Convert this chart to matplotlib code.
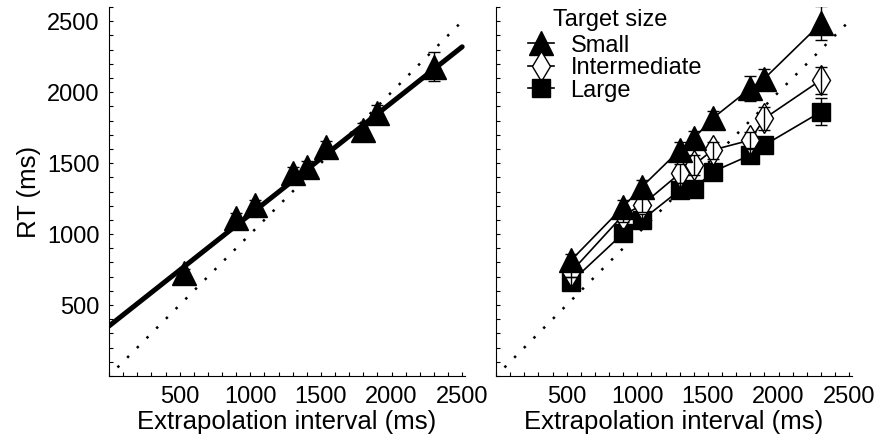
import numpy as np
import matplotlib.pyplot as plt
from matplotlib.ticker import MultipleLocator

plt.rcParams['font.family'] = ['Liberation Sans', 'DejaVu Sans']

    #Extrapolation intervals (ms)
intervals = [533, 900, 1033, 1300, 1400, 1533, 1800, 1900, 2300]

    #Left panel, all target sizes pooled
rt_all = [725, 1110, 1204, 1430, 1474, 1615, 1735, 1855, 2180]
err_all = [30, 35, 35, 40, 40, 40, 45, 55, 100]
fit_intercept = 352
fit_slope = 0.787

    #Right panel, per target size
rt_small = [817, 1192, 1333, 1592, 1674, 1815, 2026, 2096, 2484]
err_small = [40, 45, 45, 60, 55, 50, 85, 65, 120]
rt_inter = [735, 1134, 1204, 1427, 1486, 1592, 1662, 1815, 2085]
err_inter = [40, 50, 50, 65, 70, 60, 60, 80, 95]
rt_large = [664, 1005, 1099, 1310, 1317, 1439, 1556, 1627, 1861]
err_large = [35, 35, 45, 50, 45, 50, 50, 55, 95]

sizes = ["Small", "Intermediate", "Large"]

fig = plt.figure(figsize=(8.8, 4.42), dpi=100)
axL = fig.add_axes([109/880, 1 - 376/442, 356/880, 369/442])
axR = fig.add_axes([496/880, 1 - 376/442, 356/880, 369/442])

diag = np.array([60, 2500])

#--------------LEFT PANEL------------------------------------#
axL.plot(diag, diag, linestyle=(0, (1, 4.5)), color='black', lw=1.8)
fit_x = np.array([0, 2500])
axL.plot(fit_x, fit_intercept + fit_slope * fit_x, color='black', lw=3.6,
         solid_capstyle='round')
axL.errorbar(intervals, rt_all, yerr=err_all, fmt='^', color='black',
             ms=17, capsize=4, elinewidth=1, capthick=1)

#--------------RIGHT PANEL-----------------------------------#
axR.plot(diag, diag, linestyle=(0, (1, 4.5)), color='black', lw=1.8)

handles = []
for rt, err, mk, face, ms, lab in [(rt_large, err_large, 's', 'black', 13, sizes[2]),
                                   (rt_inter, err_inter, 'd', 'white', 15, sizes[1]),
                                   (rt_small, err_small, '^', 'black', 17, sizes[0])]:
    ln, = axR.plot(intervals, rt, marker=mk, color='black', lw=1.2,
                   mfc=face, mec='black', mew=1, ms=ms, label=lab, zorder=2)
    axR.errorbar(intervals, rt, yerr=err, fmt='none', ecolor='black',
                 capsize=4, elinewidth=1, capthick=1, zorder=2.5)
    handles.append(ln)

handles = handles[::-1]
leg = axR.legend(handles=handles, loc='upper left',
                 bbox_to_anchor=(0.09, 0.925), frameon=False, fontsize=17,
                 handlelength=1.1, handletextpad=0.7,
                 labelspacing=0.02, borderaxespad=0, borderpad=0)
axR.text(0.16, 0.965, "Target size", transform=axR.transAxes, fontsize=17,
         ha='left', va='center')

for ax in (axL, axR):
    ax.set_xlim(0, 2520)
    ax.set_ylim(0, 2600)
    ax.spines['top'].set_visible(False)
    ax.spines['right'].set_visible(False)
    ax.xaxis.set_major_locator(MultipleLocator(500))
    ax.xaxis.set_minor_locator(MultipleLocator(100))
    ax.yaxis.set_major_locator(MultipleLocator(500))
    ax.yaxis.set_minor_locator(MultipleLocator(100))
    ax.tick_params(which='both', direction='in', length=3, width=0.8,
                   labelsize=17, pad=7)
    ax.set_xticks([500, 1000, 1500, 2000, 2500])
    ax.set_xlabel("Extrapolation interval (ms)", fontsize=18.5, labelpad=2)

axL.set_yticks([500, 1000, 1500, 2000, 2500])
axL.set_ylabel("RT (ms)", fontsize=18.5, labelpad=4)
axR.set_yticks([500, 1000, 1500, 2000, 2500])
axR.set_yticklabels([])

fig.savefig("out.png", dpi=100)
